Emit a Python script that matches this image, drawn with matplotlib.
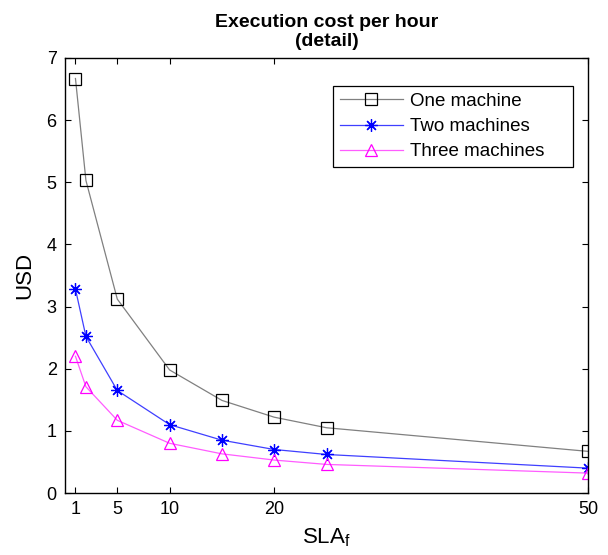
import matplotlib
matplotlib.use("Agg")
import matplotlib.pyplot as plt

plt.rcParams['font.family'] = ['Liberation Sans', 'DejaVu Sans']

# SLA factor values and hourly execution cost (USD)
sla_f = [1, 2, 5, 10, 15, 20, 25, 50]
one_machine = [6.67, 5.03, 3.12, 1.98, 1.49, 1.22, 1.05, 0.67]
two_machines = [3.28, 2.52, 1.65, 1.10, 0.85, 0.70, 0.62, 0.40]
three_machines = [2.20, 1.71, 1.17, 0.80, 0.63, 0.53, 0.46, 0.32]

xticks = [1, 5, 10, 20, 50]
yticks = [0, 1, 2, 3, 4, 5, 6, 7]

W, H = 608, 555
fig = plt.figure(figsize=(W / 100, H / 100), dpi=100)
ax = fig.add_axes([65 / W, 1 - 493 / H, 523 / W, 435 / H])

ax.plot(sla_f, one_machine, color='#808080', lw=0.9, marker='s', ms=8,
        mfc='none', mec='black', mew=0.9, label='One machine')
ax.plot(sla_f, two_machines, color='#3f3fff', lw=0.9, marker=(8, 2, 0), ms=9,
        mec='#0000ff', mew=0.9, label='Two machines')
ax.plot(sla_f, three_machines, color='#ff5cff', lw=0.9, marker='^', ms=9,
        mfc='none', mec='#ff00ff', mew=0.9, label='Three machines')

ax.set_xlim(0, 50)
ax.set_ylim(0, 7)
ax.set_xticks(xticks)
ax.set_yticks(yticks)
ax.tick_params(direction='in', top=True, right=True, length=4, width=0.8,
               labelsize=13, pad=6)
for sp in ax.spines.values():
    sp.set_linewidth(1.0)

ax.set_xlabel(r'SLA$_\mathregular{f}$', fontsize=16, labelpad=6)
ax.set_ylabel('USD', fontsize=16, labelpad=8)
ax.set_title('Execution cost per hour\n(detail)', fontsize=14,
             fontweight='bold', linespacing=1.15, pad=9)

# legend box spans a fixed region in the upper right
x0, x1 = (333 - 65) / 523, (573 - 65) / 523
y_top = (493 - 86) / 435
leg = ax.legend(loc='upper left', bbox_to_anchor=(x0, y_top - 0.2, x1 - x0, 0.2),
                mode='expand', fontsize=13.5, handlelength=3.4,
                handletextpad=0.37, labelspacing=0.44, borderpad=0.35,
                borderaxespad=0, fancybox=False, framealpha=1,
                edgecolor='black')
leg.get_frame().set_linewidth(0.9)

fig.savefig('out.png', dpi=100)
